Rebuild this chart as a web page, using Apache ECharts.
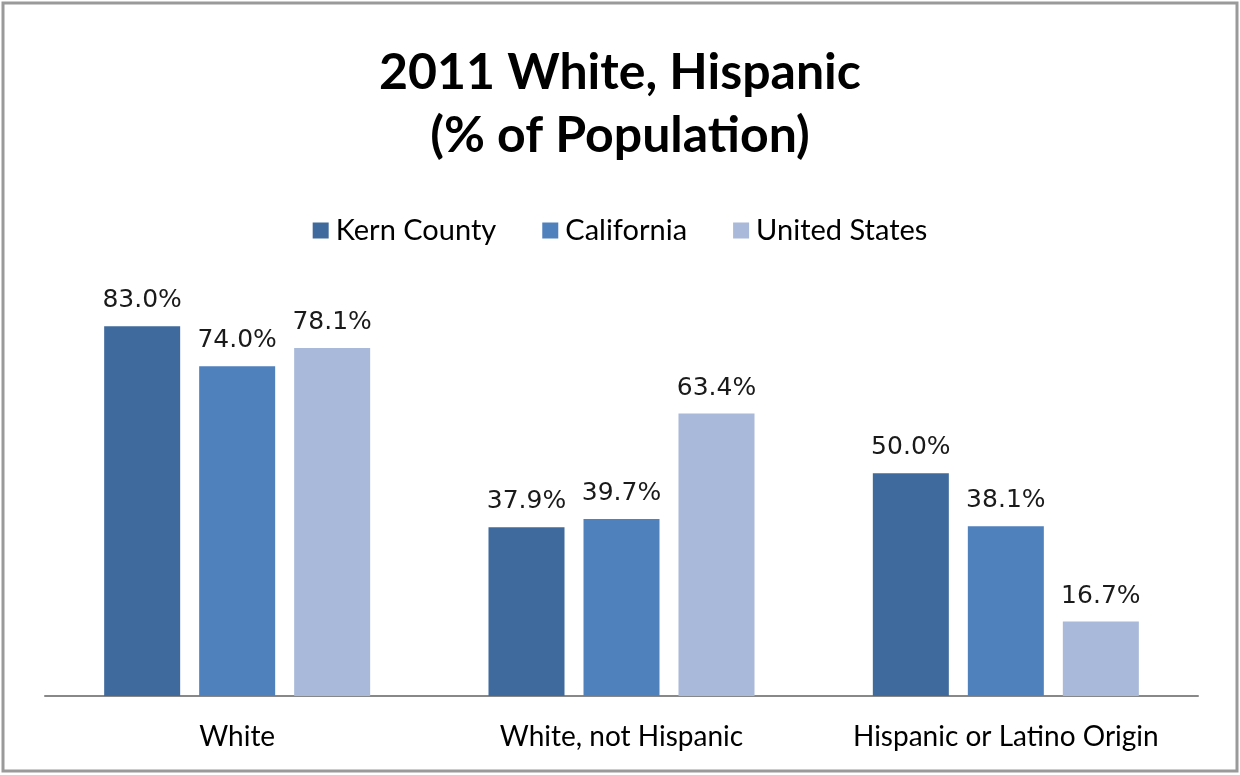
<!DOCTYPE html>
<html>
<head>
<meta charset="utf-8">
<script src="https://cdn.jsdelivr.net/npm/echarts@6/dist/echarts.min.js"></script>
<style>
  html, body { margin: 0; padding: 0; background: #fff; }
  #chart { width: 1240px; height: 775px; }
</style>
</head>
<body>
<div id="chart"></div>
<script>
// Population shares by group, 2011
const categories = ['White', 'White, not Hispanic', 'Hispanic or Latino Origin'];
const seriesNames = ['Kern County', 'California', 'United States'];
const kernCounty = [83.0, 37.9, 50.0];
const california = [74.0, 39.7, 38.1];
const unitedStates = [78.1, 63.4, 16.7];
const seriesColors = ['#3F6A9D', '#4F81BD', '#A9B9D9'];

const chart = echarts.init(document.getElementById('chart'));

const values = [kernCounty, california, unitedStates];

chart.setOption({
  backgroundColor: '#ffffff',
  animation: false,
  title: {
    text: '2011 White, Hispanic\n(% of Population)',
    left: 'center',
    top: 36,
    textStyle: {
      fontFamily: 'Lato',
      fontWeight: 'bold',
      fontSize: 50,
      lineHeight: 63,
      color: '#000'
    }
  },
  legend: {
    top: 211,
    left: 'center',
    itemWidth: 16,
    itemHeight: 16,
    itemGap: 46,
    icon: 'rect',
    textStyle: { fontFamily: 'Lato', fontSize: 29, color: '#000', padding: [0, 0, 0, 2] },
    data: seriesNames
  },
  grid: { left: 45, right: 42, top: 295, bottom: 79, containLabel: false },
  xAxis: {
    type: 'category',
    data: categories,
    axisLine: { lineStyle: { color: '#888', width: 2 } },
    axisTick: { show: false },
    axisLabel: {
      interval: 0,
      hideOverlap: false,
      fontFamily: 'Lato',
      fontSize: 28,
      color: '#000',
      margin: 27
    }
  },
  yAxis: {
    type: 'value',
    min: 0,
    max: 90,
    show: false,
    splitLine: { show: false }
  },
  graphic: [{
    type: 'rect',
    shape: { x: 3, y: 3, width: 1234, height: 768 },
    style: { fill: 'none', stroke: '#9a9a9a', lineWidth: 3 },
    silent: true
  }],
  series: seriesNames.map((name, i) => ({
    name: name,
    type: 'bar',
    data: values[i],
    barWidth: 76,
    barGap: '25%',
    itemStyle: { color: seriesColors[i] },
    label: {
      show: true,
      position: 'top',
      distance: 13,
      fontFamily: 'DejaVu Sans',
      fontSize: 25,
      color: '#1a1a1a',
      formatter: p => p.value.toFixed(1) + '%'
    }
  }))
});
</script>
</body>
</html>
